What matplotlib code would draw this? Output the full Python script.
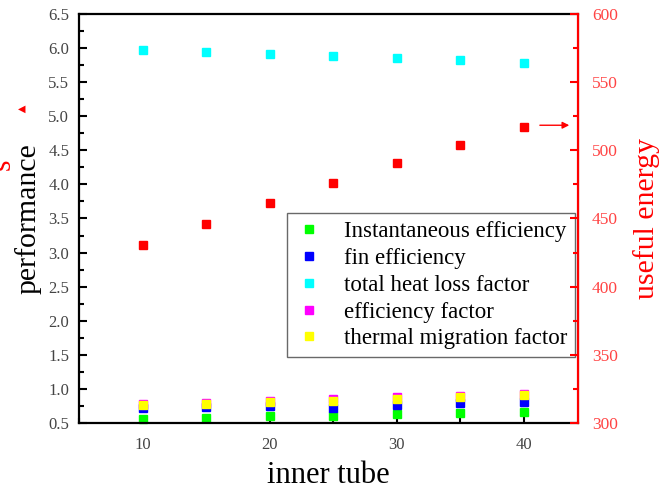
import numpy as np
import matplotlib.pyplot as plt
from matplotlib.ticker import MultipleLocator, FormatStrFormatter

# data
tube = [10, 15, 20, 25, 30, 35, 40]
inst_eff = [0.56, 0.575, 0.60, 0.60, 0.625, 0.645, 0.665]
fin_eff = [0.72, 0.73, 0.745, 0.72, 0.77, 0.79, 0.81]
heat_loss = [5.97, 5.94, 5.91, 5.88, 5.85, 5.82, 5.78]
eff_factor = [0.775, 0.80, 0.825, 0.85, 0.875, 0.90, 0.93]
migration = [0.76, 0.785, 0.81, 0.83, 0.855, 0.88, 0.905]
useful_energy = [430.5, 446, 461.5, 476, 490.5, 504, 517]

serif = ["Liberation Serif", "DejaVu Serif"]
plt.rcParams["font.family"] = serif

fig = plt.figure(figsize=(6.69, 4.91), dpi=100)
ax = fig.add_axes([0.118, 0.1385, 0.746, 0.833])
ax2 = ax.twinx()

ms = 6.2
ax.plot(tube, inst_eff, "s", color="#00ff00", ms=ms, label="Instantaneous efficiency", clip_on=False)
ax.plot(tube, fin_eff, "s", color="#0000ff", ms=ms, label="fin efficiency")
ax.plot(tube, heat_loss, "s", color="#00ffff", ms=ms, label="total heat loss factor")
ax.plot(tube, eff_factor, "s", color="#ff00ff", ms=ms, label="efficiency factor")
ax.plot(tube, migration, "s", color="#ffff00", ms=ms, label="thermal migration factor")
ax2.plot(tube, useful_energy, "s", color="#ff0000", ms=ms)

ax.set_xlim(5, 44.25)
ax.set_ylim(0.5, 6.5)
ax2.set_ylim(300, 600)

ax.xaxis.set_major_locator(MultipleLocator(10))
ax.xaxis.set_minor_locator(MultipleLocator(5))
ax.yaxis.set_major_locator(MultipleLocator(0.5))
ax.yaxis.set_minor_locator(MultipleLocator(0.25))
ax.yaxis.set_major_formatter(FormatStrFormatter("%.1f"))
ax2.yaxis.set_major_locator(MultipleLocator(50))
ax2.yaxis.set_minor_locator(MultipleLocator(25))

ax.tick_params(which="both", direction="in", labelsize=12, labelcolor="#444444", width=1.5)
ax.tick_params(which="major", length=6)
ax.tick_params(which="minor", length=3.5)
ax.tick_params(axis="x", pad=10)
ax.tick_params(axis="y", pad=7)
ax2.tick_params(which="both", direction="in", colors="#ff0000", labelcolor="#ff4444",
                labelsize=12.5, width=1.5, pad=10)
ax2.tick_params(which="major", length=6)
ax2.tick_params(which="minor", length=3.5)

for s in ["left", "bottom", "top"]:
    ax.spines[s].set_linewidth(1.6)
ax2.spines["right"].set_color("#ff0000")
ax2.spines["right"].set_linewidth(1.6)
for s in ["left", "bottom", "top"]:
    ax2.spines[s].set_visible(False)

ax.set_xlabel("inner tube", fontsize=22, labelpad=6)
ax.set_ylabel("performance", fontsize=21.5, labelpad=5)
ax2.set_ylabel("useful energy", fontsize=21.5, color="#ff0000", labelpad=11)

leg = ax.legend(loc="upper left", bbox_to_anchor=(0.417, 0.513), fontsize=16.5,
                frameon=True, fancybox=False, edgecolor="#444444",
                handlelength=1.2, handletextpad=0.92, labelspacing=0.25,
                borderpad=0.35, borderaxespad=0, markerscale=0.9)
leg.get_frame().set_linewidth(1.0)

ax.annotate("", xy=(0.988, 0.728), xytext=(0.918, 0.728), xycoords="axes fraction",
            arrowprops=dict(arrowstyle="-|>", color="#ff0000", lw=1.0, mutation_scale=10))

# stray red pieces at the left edge
fig.text(0.033, 0.778, "\u25c0", color="#ff0000", fontsize=7, ha="center", va="center",
         family=["DejaVu Sans"])
fig.text(0.004, 0.665, "s", color="#ff0000", fontsize=21, rotation=90, ha="center", va="center")

fig.savefig("out.png", dpi=100)
